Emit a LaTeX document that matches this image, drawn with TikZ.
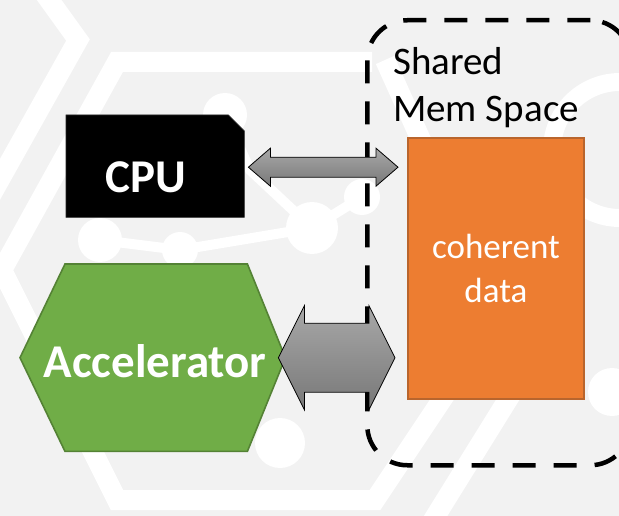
\documentclass[tikz,border=0pt]{standalone}
\usepackage{fontspec}
\setmainfont{Carlito}
\usetikzlibrary{calc}

\definecolor{bggray}{HTML}{F2F2F2}
\definecolor{accgreen}{HTML}{70AD47}
\definecolor{accedge}{HTML}{548235}
\definecolor{dataorange}{HTML}{ED7D31}
\definecolor{dataedge}{HTML}{B9652D}
\definecolor{arrowtop}{HTML}{A8A8A8}
\definecolor{arrowbot}{HTML}{787878}

\tikzset{
  frame/.style={rectangle, inner sep=0pt, anchor=north west},
  memframe/.style={frame, draw=black, line width=4.5pt, dash pattern=on 23pt off 18pt,
                   rounded corners=40pt},
  cpushape/.style={fill=black, draw=black!85, line width=0.6pt},
  accshape/.style={fill=accgreen, draw=accedge, line width=1.6pt, line join=miter},
  databox/.style={frame, fill=dataorange, draw=dataedge, line width=1.8pt,
                  align=center, text=white, font=\fontsize{35}{44}\selectfont},
  fatarrow/.style={top color=arrowtop, bottom color=arrowbot, draw=black,
                   line width=0.8pt, line join=miter},
  boldlabel/.style={inner sep=0pt, anchor=base, text=white,
                    font=\fontsize{47}{56}\selectfont\bfseries},
  spacelabel/.style={inner sep=0pt, anchor=base west, text=black,
                     font=\fontsize{39}{47}\selectfont},
  wm/.style={white, line width=20pt, line join=miter},
  wmdot/.style={fill=white},
}

% double-headed block arrow: style, left tip, right tip, shaft half height,
% head half height, head length
\newcommand\twowayarrow[6]{%
  \path[#1] (#2) -- ($(#2)+(#6,-#5)$) -- ($(#2)+(#6,-#4)$)
    -- ($(#3)+(-#6,-#4)$) -- ($(#3)+(-#6,-#5)$) -- (#3)
    -- ($(#3)+(-#6,#5)$) -- ($(#3)+(-#6,#4)$)
    -- ($(#2)+(#6,#4)$) -- ($(#2)+(#6,#5)$) -- cycle;}

\begin{document}
\begin{tikzpicture}[x=1pt, y=-1pt]
  \useasboundingbox (0,0) rectangle (619,516);
  \clip (0,0) rectangle (619,516);

  % backdrop with a faint circuit pattern
  \fill[bggray] (0,0) rectangle (619,516);
  \draw[wm] (42,-10) -- (78,40) -- (-20,215);
  \draw[wm] (372,62) -- (117,62) -- (2,270) -- (117,500) -- (375,500) -- (455,380);
  \draw[wm] (430,525) -- (520,380);
  \draw[wm] (385,60) -- (430,160);
  \draw[wm, line width=18pt] (620,150) circle[radius=68];
  \draw[white, line width=10pt] (100,240) -- (180,250) -- (312,228) -- (362,197);
  \draw[white, line width=10pt] (225,115) -- (250,170) -- (312,228);
  \fill[wmdot] (225,115) circle[radius=22];
  \fill[wmdot] (100,240) circle[radius=22];
  \fill[wmdot] (180,250) circle[radius=18];
  \fill[wmdot] (312,228) circle[radius=26];
  \fill[wmdot] (362,197) circle[radius=18];
  \fill[wmdot] (280,443) circle[radius=25];
  \fill[wmdot] (612,392) circle[radius=24];

  % shared memory region
  \node[memframe, minimum width=263pt, minimum height=445pt] (space) at (365,18) {};
  \node[spacelabel] (shared) at (393,75) {Shared};
  \node[spacelabel] (memspace) at (393,122) {Mem Space};

  % CPU: rectangle with a snipped top-right corner
  \node[frame, minimum width=178pt, minimum height=102pt] (cpubox) at (66,115) {};
  \path[cpushape] (cpubox.north west) -- ($(cpubox.north east)+(-16,0)$)
    -- ($(cpubox.north east)+(0,16)$) -- (cpubox.south east)
    -- (cpubox.south west) -- cycle;
  \node[boldlabel] (cpu) at ($(cpubox.center)+(-9,26)$) {CPU};

  % accelerator hexagon
  \node[frame, minimum width=265pt, minimum height=187pt] (accbox) at (20,264) {};
  \path[accshape] (accbox.west) -- ($(accbox.north west)+(45,0)$)
    -- ($(accbox.north east)+(-38,0)$) -- (accbox.east)
    -- ($(accbox.south east)+(-38,0)$) -- ($(accbox.south west)+(45,0)$) -- cycle;

  % coherent data block
  \node[databox, minimum width=176pt, minimum height=261pt] (data) at (407,137)
    {coherent\\data};

  % connectors
  \coordinate (cpuL) at ($(cpubox.east)+(4,1)$);
  \coordinate (cpuR) at ($(cpuL -| data.west)+(-9,0)$);
  \twowayarrow{fatarrow}{cpuL}{cpuR}{10}{19}{22}
  \coordinate (accL) at ($(accbox.east)+(-7,0)$);
  \coordinate (accR) at ($(accL -| data.west)+(-12,0)$);
  \twowayarrow{fatarrow}{accL}{accR}{34.5}{52}{26}

  \node[boldlabel] (acc) at ($(accbox.center)+(2.5,19.5)$) {Accelerator};
\end{tikzpicture}
\end{document}
